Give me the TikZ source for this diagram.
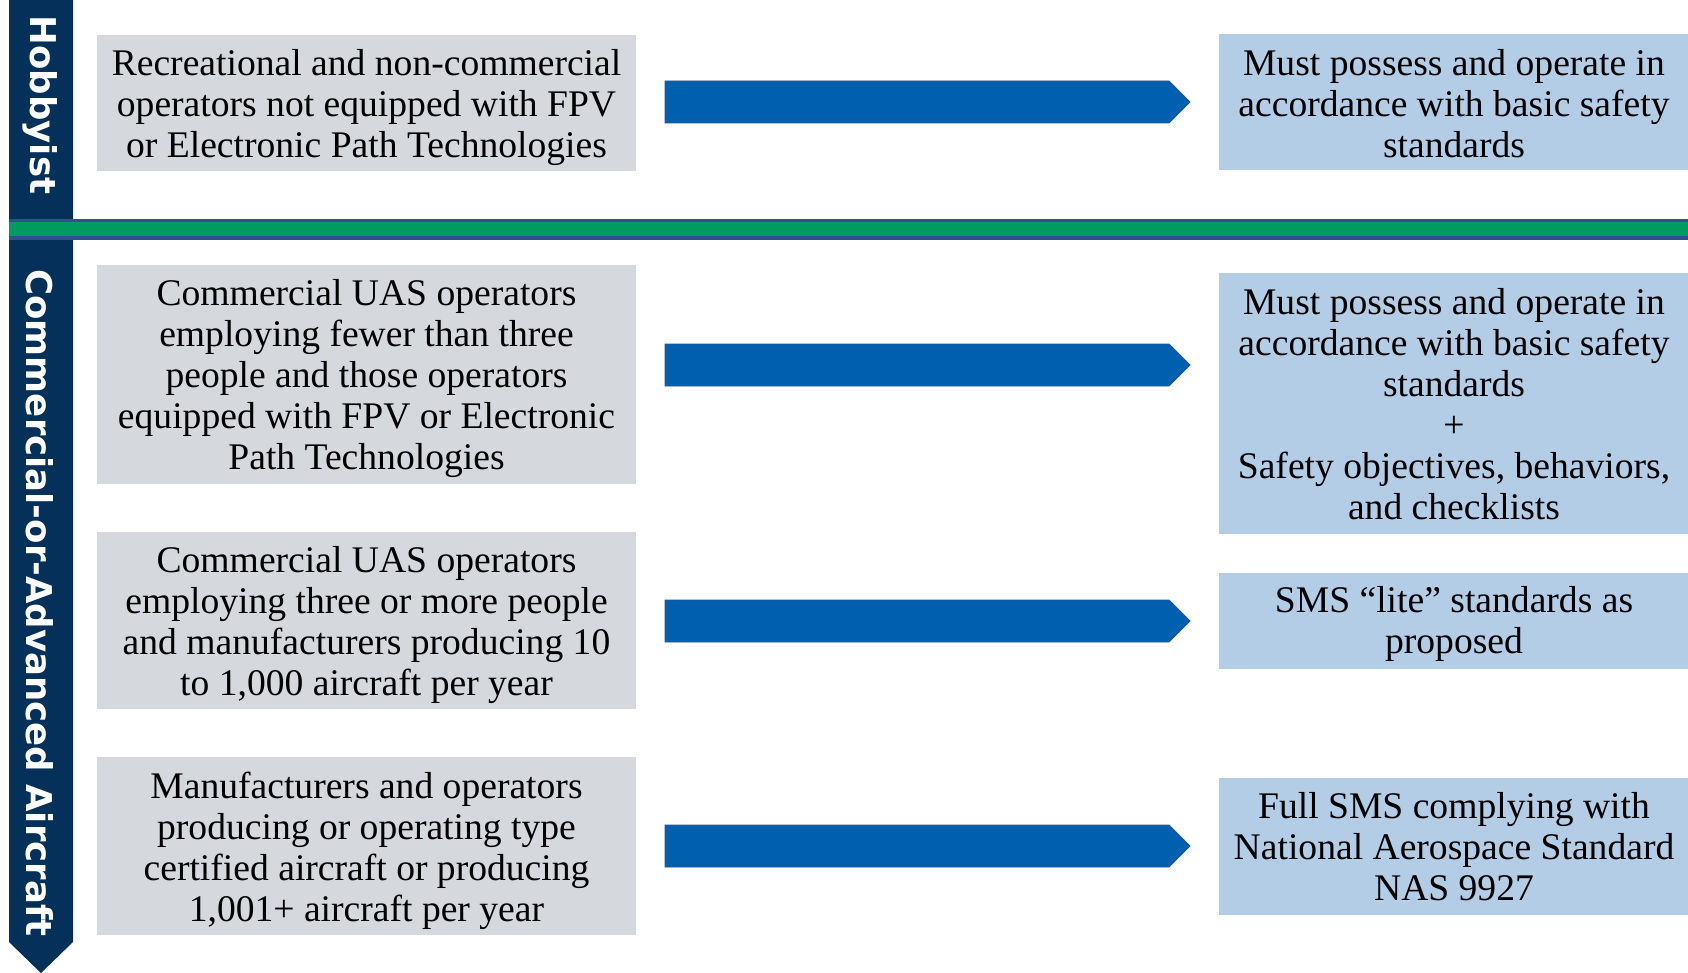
\documentclass[tikz,border=0pt]{standalone}
\usepackage{fontspec}
\setmainfont{Liberation Serif}
\newfontfamily\bannerfont{DejaVu Sans}
\definecolor{navy}{RGB}{4,48,90}
\definecolor{rulegreen}{RGB}{0,155,96}
\definecolor{ruleblue}{RGB}{47,82,143}
\definecolor{boxgray}{RGB}{213,216,221}
\definecolor{boxblue}{RGB}{180,205,230}
\definecolor{arrowblue}{RGB}{0,96,176}
\definecolor{arrowedge}{RGB}{47,82,143}
\begin{document}
\begin{tikzpicture}[x=1pt,y=-1pt,
  txt/.style={font=\fontsize{37.6}{41}\selectfont, align=center, inner sep=0pt},
  groupbox/.style={fill=boxgray},
  reqbox/.style={fill=boxblue},
  flowarrow/.style={fill=arrowblue, draw=arrowedge, line width=0.8pt},
  bannertext/.style={font=\bannerfont\bfseries\fontsize{35.5}{40}\selectfont, text=white, rotate=-90, inner sep=0pt}
]
\useasboundingbox (0,0) rectangle (1688,973);

% side banner with pointed bottom
\fill[navy] (9,0) -- (73,0) -- (73,942) -- (41,973) -- (9,942) -- cycle;
\node[bannertext] (hob) at (40,105) {Hobbyist};
\node[bannertext] (com) at (40,603) {Commercial-or-Advanced Aircraft};

% separator rule
\fill[ruleblue] (9,219) rectangle (1688,240);
\fill[rulegreen] (9,222.5) rectangle (1688,236.5);

% operator groups (left)
\fill[groupbox] (97,35) rectangle (636,171);
\node[txt] (g1) at (366.5,107.5) {Recreational and non-commercial\\operators not equipped with FPV\\or Electronic Path Technologies};
\fill[groupbox] (97,265) rectangle (636,484);
\node[txt] (g2) at (366.5,379) {Commercial UAS operators\\employing fewer than three\\people and those operators\\equipped with FPV or Electronic\\Path Technologies};
\fill[groupbox] (97,532) rectangle (636,709);
\node[txt] (g3) at (366.5,625) {Commercial UAS operators\\employing three or more people\\and manufacturers producing 10\\to 1,000 aircraft per year};
\fill[groupbox] (97,757) rectangle (636,935);
\node[txt] (g4) at (366.5,850.5) {Manufacturers and operators\\producing or operating type\\certified aircraft or producing\\1,001+ aircraft per year};

% requirements (right)
\fill[reqbox] (1219,34) rectangle (1688,170);
\node[txt] (r1) at (1454,103.5) {Must possess and operate in\\accordance with basic safety\\standards};
\fill[reqbox] (1219,273) rectangle (1688,534);
\node[txt] (r2) at (1454,404) {Must possess and operate in\\accordance with basic safety\\standards\\+\\Safety objectives, behaviors,\\and checklists};
\fill[reqbox] (1219,573) rectangle (1688,669);
\node[txt] (r3) at (1454,624) {SMS “lite” standards as\\proposed};
\fill[reqbox] (1219,778) rectangle (1688,915);
\node[txt] (r4) at (1454,847) {Full SMS complying with\\National Aerospace Standard\\NAS 9927};

% arrows from groups to requirements
\foreach \yc in {102,365,621,846}{
  \draw[flowarrow] (665,\yc-21) -- (1169,\yc-21) -- (1190,\yc) -- (1169,\yc+21) -- (665,\yc+21) -- cycle;
}
\end{tikzpicture}
\end{document}
